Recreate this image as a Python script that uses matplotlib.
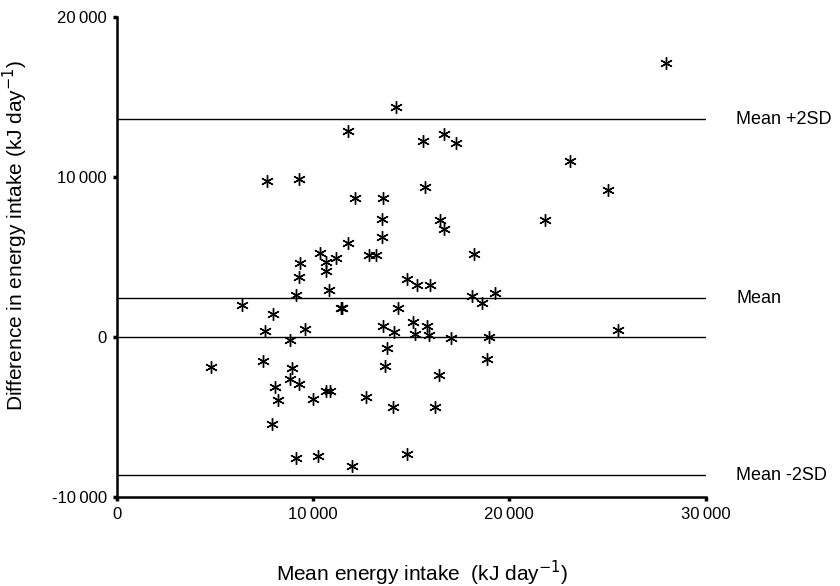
import matplotlib
matplotlib.use("Agg")
import matplotlib.pyplot as plt
from matplotlib.ticker import FuncFormatter

plt.rcParams['font.family'] = ['Liberation Sans', 'DejaVu Sans']

# mean intake (kJ/day) and difference (kJ/day)
mean_intake = [27970, 17300, 23110, 25040, 21800, 18200, 18120, 19260, 18610, 17040,
               18960, 25550, 18880, 14240, 11780, 15600, 16670, 7670, 9290, 15720,
               12120, 13580, 13500, 16490, 16690, 13500, 11780, 10340, 12850, 13230,
               11160, 10680, 9360, 10680, 9290, 14790, 15300, 15940, 10810, 9150,
               6380, 11400, 11500, 14330, 7960, 7570, 9610, 13570, 15100, 15820,
               14140, 15210, 15910, 8810, 13750, 7450, 4820, 8940, 13650, 8840,
               9290, 16420, 8070, 10680, 10850, 8190, 10020, 12700, 14070, 16200,
               7910, 9150, 10260, 11990, 14790]
difference = [17150, 12150, 11020, 9170, 7300, 5200, 2550, 2730, 2120, -80,
              20, 440, -1370, 14370, 12870, 12250, 12660, 9770, 9880, 9380,
              8690, 8690, 7400, 7300, 6720, 6220, 5890, 5220, 5100, 5100,
              4910, 4700, 4600, 4120, 3720, 3620, 3220, 3220, 2930, 2620,
              2000, 1790, 1790, 1790, 1410, 390, 500, 710, 910, 710,
              290, 190, 120, -190, -710, -1480, -1890, -1950, -1790, -2640,
              -2950, -2370, -3100, -3350, -3350, -3930, -3870, -3760, -4350, -4350,
              -5430, -7570, -7470, -8050, -7320]

ref_levels = [13600, 2430, 0, -8650]
ref_labels = ["Mean +2SD", "Mean", None, "Mean -2SD"]

fig = plt.figure(figsize=(8.4, 5.86), dpi=100)
ax = fig.add_axes([0.139, 0.152, 0.701, 0.819])

for lev in ref_levels:
    ax.plot([0, 30000], [lev, lev], color='black', lw=1.0, zorder=1)
for lev, lab in zip(ref_levels, ref_labels):
    if lab:
        ax.text(31550, lev, lab, fontsize=13, va='center', ha='left')

ax.plot(mean_intake, difference, linestyle='none', marker=(6, 2, 0),
        markersize=9, markeredgewidth=1.0, color='black', zorder=3)

ax.set_xlim(0, 30000)
ax.set_ylim(-10000, 20000)
ax.set_xticks([0, 10000, 20000, 30000])
ax.set_yticks([-10000, 0, 10000, 20000])
fmt = FuncFormatter(lambda v, p: f"{int(v):,}".replace(",", "\u2009"))
ax.xaxis.set_major_formatter(fmt)
ax.yaxis.set_major_formatter(fmt)
ax.tick_params(direction='out', length=3, width=2.5, labelsize=12, pad=4)

for s in ['top', 'right']:
    ax.spines[s].set_visible(False)
for s in ['left', 'bottom']:
    ax.spines[s].set_linewidth(1.8)

ax.set_xlabel("Mean energy intake  (kJ day$^{-1}$)", fontsize=15)
ax.set_ylabel("Difference in energy intake (kJ day$^{-1}$)", fontsize=15)
ax.xaxis.set_label_coords(0.518, -0.128)
ax.yaxis.set_label_coords(-0.148, 0.545)

fig.savefig("out.png", dpi=100)
